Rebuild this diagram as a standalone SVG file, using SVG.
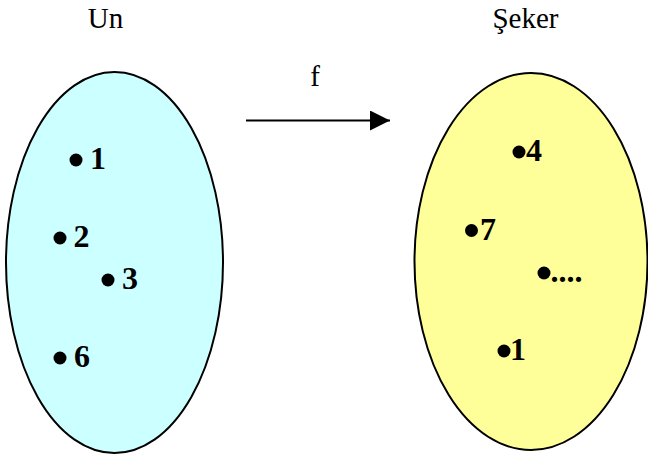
<svg xmlns="http://www.w3.org/2000/svg" width="648" height="454" viewBox="0 0 648 454">
<style type="text/css">
.title{font-family:'Liberation Serif','Times New Roman',serif;font-size:29px;fill:#000}
.lbl{font-family:'Liberation Serif','Times New Roman',serif;font-size:32px;font-weight:bold;fill:#000}
.set{stroke:#000;stroke-width:2}
.dot{fill:#000}
</style>
<defs>
<marker id="ah" markerWidth="20" markerHeight="20" refX="20" refY="10" orient="auto" markerUnits="userSpaceOnUse">
<path d="M0,0 L20,10 L0,20 Z" fill="#000"/>
</marker>
</defs>
<rect width="648" height="454" fill="#fff"/>
<g id="set-un">
<ellipse class="set" cx="114.5" cy="262.5" rx="108.5" ry="190.5" fill="#CCFFFF"/>
<text class="title" x="105.5" y="28" text-anchor="middle">Un</text>
</g>
<g id="set-seker">
<ellipse class="set" cx="531" cy="261.5" rx="116.5" ry="188.5" fill="#FFFF99"/>
<text class="title" x="525.5" y="28" text-anchor="middle">Şeker</text>
</g>
<g id="un-1"><circle class="dot" cx="76" cy="160" r="6.5"/><text class="lbl" x="90" y="169">1</text></g>
<g id="un-2"><circle class="dot" cx="60" cy="238" r="6.5"/><text class="lbl" x="73.5" y="247">2</text></g>
<g id="un-3"><circle class="dot" cx="108" cy="280" r="6.5"/><text class="lbl" x="122" y="288.5">3</text></g>
<g id="un-6"><circle class="dot" cx="60" cy="358" r="6.5"/><text class="lbl" x="74" y="367">6</text></g>
<g id="seker-4"><circle class="dot" cx="519" cy="152" r="6.5"/><text class="lbl" x="526" y="161">4</text></g>
<g id="seker-7"><circle class="dot" cx="471.5" cy="230.5" r="6.5"/><text class="lbl" x="480" y="240">7</text></g>
<g id="seker-more"><circle class="dot" cx="544" cy="273" r="6.5"/><text class="lbl" x="550.5" y="282">....</text></g>
<g id="seker-1"><circle class="dot" cx="504" cy="351" r="6.5"/><text class="lbl" x="510" y="360">1</text></g>
<g id="connectors">
<line x1="246" y1="120.5" x2="390" y2="120.5" stroke="#000" stroke-width="2" marker-end="url(#ah)"/>
<text class="title" x="315" y="86" text-anchor="middle">f</text>
</g>
</svg>
